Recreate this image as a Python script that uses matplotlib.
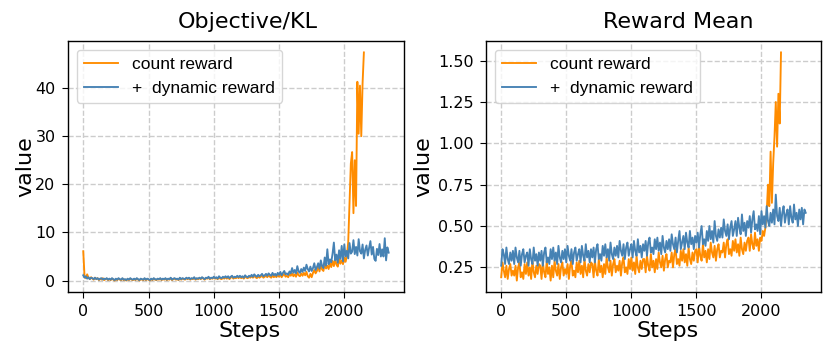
import numpy as np
import matplotlib
matplotlib.use('Agg')
import matplotlib.pyplot as plt

# values, one point every 10 steps
STEP = 10

kl_count = [
    6.1, 0.8, 0.5, 1.3, 0.6, 0.3, 0.7, 0.4, 0.2, 0.6,
    0.3, 0.5, 0.1, 0.4, 0.2, 0.5, 0.1, 0.3, 0.4, 0.1,
    0.3, 0.1, 0.4, 0.2, 0.0, 0.3, 0.1, 0.4, 0.2, 0.1,
    0.4, 0.1, 0.2, 0.0, 0.3, 0.1, 0.4, 0.2, 0.1, 0.3,
    0.1, 0.4, 0.2, 0.0, 0.3, 0.2, 0.1, 0.4, 0.1, 0.3,
    0.2, 0.0, 0.3, 0.1, 0.4, 0.2, 0.1, 0.3, 0.2, 0.4,
    0.1, 0.3, 0.2, 0.4, 0.1, 0.3, 0.2, 0.5, 0.1, 0.3,
    0.4, 0.2, 0.3, 0.1, 0.5, 0.2, 0.4, 0.3, 0.2, 0.5,
    0.3, 0.5, 0.2, 0.4, 0.3, 0.6, 0.2, 0.4, 0.3, 0.5,
    0.3, 0.6, 0.4, 0.2, 0.5, 0.4, 0.6, 0.3, 0.5, 0.4,
    0.6, 0.4, 0.5, 0.3, 0.7, 0.4, 0.3, 0.6, 0.4, 0.7,
    0.4, 0.7, 0.3, 0.6, 0.8, 0.4, 0.6, 0.5, 0.8, 0.5,
    0.8, 0.5, 0.7, 0.4, 0.9, 0.6, 0.5, 0.8, 0.6, 0.9,
    0.6, 1.0, 0.7, 0.5, 0.9, 0.6, 0.8, 1.0, 0.6, 0.8,
    1.0, 0.7, 1.1, 0.8, 0.6, 1.1, 0.7, 1.0, 0.7, 1.2,
    0.8, 1.3, 0.7, 1.1, 1.4, 0.8, 1.0, 0.7, 1.3, 1.0,
    1.5, 0.9, 1.3, 0.8, 1.7, 1.1, 0.9, 1.5, 1.0, 1.6,
    1.1, 1.8, 0.9, 0.6, 1.4, 0.7, 1.6, 2.2, 1.5, 2.0,
    2.9, 1.9, 3.3, 2.3, 2.0, 3.6, 2.5, 3.1, 2.4, 3.7,
    2.8, 4.1, 3.0, 4.5, 3.3, 2.9, 4.6, 3.5, 4.2, 3.4,
    4.8, 3.9, 5.2, 8.0, 16.0, 24.3, 26.7, 14.0, 25.0, 15.5,
    41.3, 30.5, 40.5, 30.0, 41.0, 47.4,
]

kl_dynamic = [
    1.1, 0.6, 0.9, 0.4, 0.7, 0.3, 0.6, 0.5, 0.3, 0.6,
    0.3, 0.5, 0.2, 0.4, 0.5, 0.2, 0.4, 0.3, 0.5, 0.2,
    0.4, 0.2, 0.5, 0.3, 0.1, 0.4, 0.2, 0.5, 0.3, 0.2,
    0.5, 0.2, 0.3, 0.1, 0.4, 0.2, 0.5, 0.3, 0.2, 0.4,
    0.2, 0.5, 0.3, 0.1, 0.4, 0.3, 0.2, 0.5, 0.2, 0.4,
    0.3, 0.1, 0.4, 0.2, 0.5, 0.3, 0.2, 0.4, 0.3, 0.5,
    0.2, 0.4, 0.3, 0.5, 0.2, 0.4, 0.3, 0.6, 0.2, 0.4,
    0.5, 0.3, 0.4, 0.2, 0.6, 0.3, 0.5, 0.4, 0.3, 0.6,
    0.4, 0.6, 0.3, 0.5, 0.4, 0.7, 0.3, 0.5, 0.4, 0.6,
    0.4, 0.7, 0.5, 0.3, 0.6, 0.5, 0.8, 0.4, 0.6, 0.5,
    0.8, 0.5, 0.7, 0.4, 0.9, 0.6, 0.5, 0.8, 0.6, 0.9,
    0.6, 0.9, 0.5, 0.8, 1.0, 0.6, 0.8, 0.7, 1.0, 0.7,
    1.0, 0.7, 0.9, 0.6, 1.1, 0.8, 0.7, 1.0, 0.8, 1.2,
    0.8, 1.3, 1.0, 0.8, 1.2, 0.9, 1.1, 1.4, 0.9, 1.1,
    1.4, 1.0, 1.5, 1.2, 1.0, 1.6, 1.1, 1.4, 1.0, 1.6,
    1.2, 1.8, 1.1, 1.6, 2.0, 1.3, 1.5, 1.2, 1.9, 1.5,
    2.6, 1.6, 2.2, 1.5, 3.0, 1.9, 1.6, 2.4, 1.8, 2.7,
    2.0, 3.3, 2.4, 1.9, 2.9, 2.0, 2.6, 3.6, 2.2, 2.8,
    3.6, 2.5, 4.2, 3.0, 2.6, 4.8, 3.1, 6.5, 3.4, 4.4,
    3.8, 5.6, 7.9, 4.2, 5.4, 3.7, 6.3, 4.5, 7.2, 4.0,
    7.5, 5.0, 6.2, 4.6, 7.8, 5.6, 6.0, 8.4, 5.5, 7.0,
    5.2, 8.6, 6.1, 5.6, 7.5, 4.6, 6.4, 7.3, 5.2, 6.8,
    8.2, 5.4, 7.0, 4.5, 4.1, 6.6, 5.3, 7.6, 5.0, 6.5,
    5.0, 8.8, 4.2, 6.9, 5.8,
]

rm_count = [
    0.19, 0.28, 0.23, 0.19, 0.26, 0.18, 0.24, 0.27, 0.20, 0.23,
    0.20, 0.26, 0.17, 0.25, 0.28, 0.19, 0.22, 0.18, 0.27, 0.21,
    0.28, 0.20, 0.25, 0.18, 0.29, 0.22, 0.19, 0.26, 0.21, 0.27,
    0.26, 0.18, 0.28, 0.22, 0.19, 0.29, 0.21, 0.25, 0.17, 0.26,
    0.19, 0.29, 0.23, 0.20, 0.27, 0.18, 0.25, 0.28, 0.20, 0.24,
    0.21, 0.27, 0.18, 0.26, 0.29, 0.20, 0.23, 0.19, 0.28, 0.22,
    0.29, 0.21, 0.26, 0.19, 0.30, 0.23, 0.20, 0.27, 0.22, 0.28,
    0.27, 0.19, 0.29, 0.23, 0.20, 0.30, 0.22, 0.26, 0.19, 0.27,
    0.21, 0.31, 0.25, 0.22, 0.29, 0.20, 0.27, 0.30, 0.22, 0.26,
    0.23, 0.29, 0.20, 0.28, 0.31, 0.22, 0.25, 0.21, 0.30, 0.24,
    0.31, 0.23, 0.28, 0.21, 0.32, 0.25, 0.22, 0.29, 0.24, 0.30,
    0.30, 0.22, 0.32, 0.26, 0.23, 0.33, 0.25, 0.29, 0.22, 0.30,
    0.24, 0.34, 0.28, 0.25, 0.32, 0.23, 0.30, 0.33, 0.25, 0.29,
    0.28, 0.34, 0.25, 0.33, 0.36, 0.27, 0.30, 0.26, 0.35, 0.29,
    0.36, 0.28, 0.33, 0.26, 0.37, 0.30, 0.27, 0.34, 0.29, 0.35,
    0.36, 0.28, 0.38, 0.32, 0.29, 0.39, 0.31, 0.35, 0.28, 0.36,
    0.30, 0.40, 0.34, 0.31, 0.38, 0.29, 0.36, 0.39, 0.31, 0.35,
    0.34, 0.40, 0.31, 0.39, 0.42, 0.33, 0.36, 0.32, 0.41, 0.35,
    0.42, 0.34, 0.39, 0.32, 0.43, 0.36, 0.33, 0.40, 0.35, 0.41,
    0.43, 0.35, 0.45, 0.39, 0.36, 0.46, 0.38, 0.42, 0.35, 0.43,
    0.41, 0.47, 0.44, 0.49, 0.58, 0.75, 0.62, 0.95, 0.64, 0.88,
    1.04, 1.25, 0.98, 1.30, 1.12, 1.55,
]

rm_dynamic = [
    0.26, 0.36, 0.33, 0.27, 0.37, 0.30, 0.27, 0.34, 0.29, 0.35,
    0.27, 0.37, 0.31, 0.28, 0.35, 0.26, 0.33, 0.36, 0.28, 0.32,
    0.34, 0.26, 0.36, 0.30, 0.27, 0.37, 0.29, 0.33, 0.26, 0.34,
    0.29, 0.35, 0.26, 0.34, 0.37, 0.28, 0.31, 0.27, 0.36, 0.30,
    0.37, 0.29, 0.34, 0.27, 0.38, 0.31, 0.28, 0.35, 0.30, 0.36,
    0.28, 0.38, 0.32, 0.29, 0.36, 0.27, 0.34, 0.37, 0.29, 0.33,
    0.36, 0.28, 0.38, 0.32, 0.29, 0.39, 0.31, 0.35, 0.28, 0.36,
    0.31, 0.37, 0.28, 0.36, 0.39, 0.30, 0.33, 0.29, 0.38, 0.32,
    0.39, 0.31, 0.36, 0.29, 0.40, 0.33, 0.30, 0.37, 0.32, 0.38,
    0.31, 0.41, 0.35, 0.32, 0.39, 0.30, 0.37, 0.40, 0.32, 0.36,
    0.39, 0.31, 0.41, 0.35, 0.32, 0.42, 0.34, 0.38, 0.31, 0.39,
    0.35, 0.41, 0.32, 0.40, 0.43, 0.34, 0.37, 0.33, 0.42, 0.36,
    0.43, 0.35, 0.40, 0.33, 0.44, 0.37, 0.34, 0.41, 0.36, 0.42,
    0.35, 0.45, 0.39, 0.36, 0.43, 0.34, 0.41, 0.47, 0.36, 0.40,
    0.44, 0.36, 0.46, 0.40, 0.37, 0.47, 0.39, 0.43, 0.36, 0.44,
    0.40, 0.46, 0.37, 0.45, 0.50, 0.39, 0.42, 0.38, 0.47, 0.41,
    0.50, 0.42, 0.47, 0.40, 0.53, 0.44, 0.41, 0.48, 0.43, 0.49,
    0.43, 0.54, 0.47, 0.44, 0.51, 0.42, 0.49, 0.53, 0.44, 0.48,
    0.53, 0.44, 0.55, 0.49, 0.45, 0.57, 0.47, 0.52, 0.44, 0.53,
    0.49, 0.56, 0.46, 0.54, 0.59, 0.48, 0.51, 0.47, 0.56, 0.45,
    0.59, 0.51, 0.56, 0.49, 0.62, 0.53, 0.50, 0.58, 0.52, 0.60,
    0.51, 0.69, 0.56, 0.53, 0.61, 0.50, 0.58, 0.62, 0.52, 0.57,
    0.60, 0.51, 0.62, 0.55, 0.52, 0.63, 0.54, 0.58, 0.50, 0.60,
    0.54, 0.61, 0.51, 0.60, 0.58,
]

titles = ['Objective/KL', 'Reward Mean']
labels = ['count reward', '+  dynamic reward']
yticks = [[0, 10, 20, 30, 40], [0.25, 0.50, 0.75, 1.00, 1.25, 1.50]]
xticks = [0, 500, 1000, 1500, 2000]

fig = plt.figure(figsize=(8.3, 3.56), dpi=100)
ax1 = fig.add_axes([0.0819, 0.1798, 0.4048, 0.705])
ax2 = fig.add_axes([0.5855, 0.1798, 0.4036, 0.705])

panels = [(ax1, kl_count, kl_dynamic), (ax2, rm_count, rm_dynamic)]
title_x = [0.536, 0.573]
ylabel_x = [-0.098, -0.158]

for i, (ax, count, dyn) in enumerate(panels):
    ax.plot(np.arange(len(count)) * STEP, count, color='darkorange', lw=1.35, label=labels[0])
    ax.plot(np.arange(len(dyn)) * STEP, dyn, color='steelblue', lw=1.35, label=labels[1])
    ax.set_title(titles[i], fontsize=16, x=title_x[i], pad=9.5)
    ax.set_xlabel('Steps', fontsize=16)
    ax.set_ylabel('value', fontsize=16)
    ax.xaxis.set_label_coords(0.541, -0.115)
    ax.yaxis.set_label_coords(ylabel_x[i], 0.5)
    ax.set_xticks(xticks)
    ax.set_yticks(yticks[i])
    if i == 1:
        ax.set_yticklabels(['%.2f' % v for v in yticks[i]])
    ax.tick_params(labelsize=11.5, direction='out', length=4, pad=5)
    ax.grid(True, linestyle='--', color='#cccccc', linewidth=1.0)
    ax.set_axisbelow(True)
    for s in ax.spines.values():
        s.set_linewidth(1.0)
    ax.legend(loc='upper left', prop={'family': 'Liberation Sans', 'size': 12.5},
              edgecolor='#cccccc', handlelength=2.0)

plt.savefig('out.png', dpi=100)
